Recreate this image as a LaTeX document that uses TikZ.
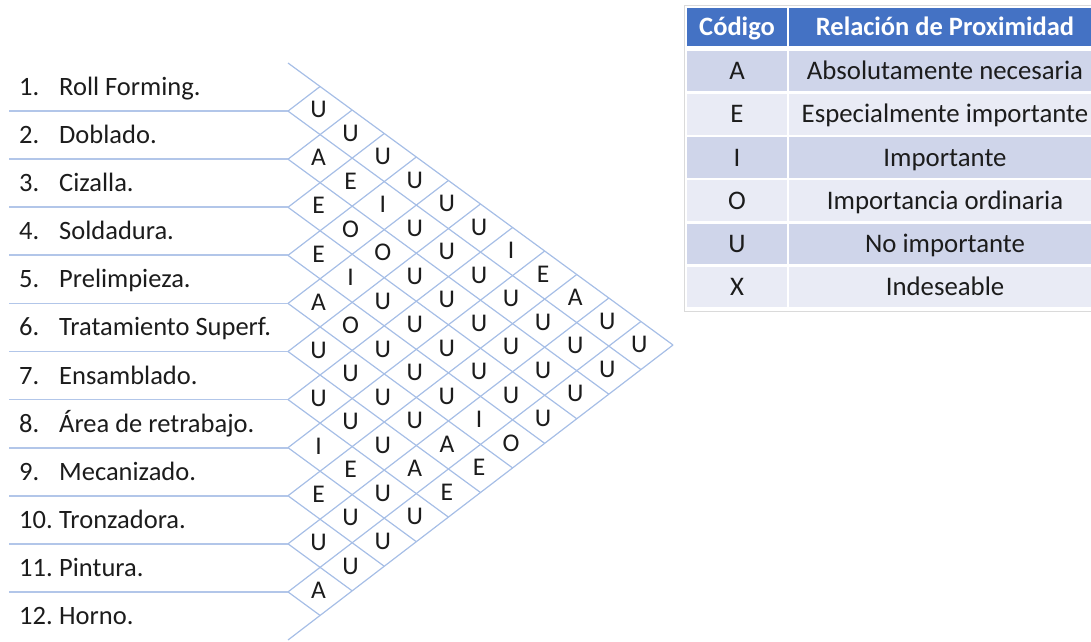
\documentclass[tikz,border=0pt]{standalone}
\usepackage{fontspec}
\setmainfont{Carlito}
\usetikzlibrary{calc}
\definecolor{gridblue}{RGB}{166,190,230}
\definecolor{linkblue}{RGB}{178,198,233}
\definecolor{inktext}{RGB}{28,28,28}
\definecolor{headblue}{RGB}{68,114,196}
\definecolor{banddark}{RGB}{207,213,234}
\definecolor{bandlight}{RGB}{233,235,245}
\definecolor{frame}{RGB}{218,218,218}
\begin{document}
\begin{tikzpicture}[x=1pt,y=-1pt,
  gridline/.style={draw=gridblue, line width=1.2pt},
  rowline/.style={draw=linkblue, line width=1.8pt},
  lbl/.style={inner sep=0pt, anchor=base west, text=inktext, font=\fontsize{26.5}{31}\selectfont},
  rel/.style={inner sep=0pt, text=inktext, text height=16.5pt, text depth=0pt,
    font=\fontsize{25.5}{30}\selectfont},
  cell/.style={rectangle, draw=white, line width=2.6pt, inner sep=0pt,
    text height=17pt, text depth=0pt,
    text=inktext, font=\fontsize{26.8}{31}\selectfont},
  headcell/.style={cell, fill=headblue, text=white, font=\fontsize{26.5}{31}\selectfont\bfseries},
  col1/.style={minimum width=102pt},
  col2/.style={minimum width=314pt}
]
\useasboundingbox (0,0) rectangle (1091,641);

% corners of the relationship chart
\coordinate (T) at (288,63);
\coordinate (B) at (288,640);
\coordinate (R) at (673,345);

% lattice points on the left side and on the two outer edges
\foreach \k in {0,...,12} {
  \coordinate (P\k) at ($(T)!{\k/12}!(B)$);
  \coordinate (Top\k) at ($(T)!{\k/12}!(R)$);
  \coordinate (Bot\k) at ($(B)!{\k/12}!(R)$);
}

% diagonal grid
\foreach \k [evaluate=\k as \m using int(12-\k)] in {0,...,12} {
  \draw[gridline] (P\k) -- (Bot\m);
  \draw[gridline] (P\k) -- (Top\k);
}

% row separators
\foreach \k in {1,...,11} {
  \coordinate (L\k) at (9,0 |- P\k);
  \draw[rowline] (L\k) -- (P\k);
}

% department list
\foreach \i/\name in {1/Roll Forming., 2/Doblado., 3/Cizalla., 4/Soldadura.,
    5/Prelimpieza., 6/Tratamiento Superf., 7/Ensamblado., 8/Área de retrabajo.,
    9/Mecanizado., 10/Tronzadora., 11/Pintura., 12/Horno.} {
  \pgfmathsetmacro\yb{63+(\i-0.5)*577/12+8.5}
  \node[lbl] (n\i) at (19,\yb) {\i.};
  \node[lbl] (t\i) at (59,\yb) {\name};
}

% closeness ratings for each pair (i,j), j>i
\foreach \i/\row in {1/{U,U,U,U,U,U,I,E,A,U,U},
                     2/{A,E,I,U,U,U,U,U,U,U},
                     3/{E,O,O,U,U,U,U,U,U},
                     4/{E,I,U,U,U,U,U,U},
                     5/{A,O,U,U,U,I,O},
                     6/{U,U,U,U,A,E},
                     7/{U,U,U,A,E},
                     8/{I,E,U,U},
                     9/{E,U,U},
                     10/{U,U},
                     11/{A}} {
  \foreach \c [count=\n] in \row {
    \pgfmathtruncatemacro\j{\i+\n}
    \pgfmathsetmacro\cx{286.5+(\j-\i)*385/12}
    \pgfmathsetmacro\cy{62+(\j-0.5)*282/12+(\i-0.5)*295/12}
    \node[rel] (r\i-\j) at (\cx,\cy) {\c};
  }
}

% legend table
\node[headcell, col1, minimum height=41.5pt] (hcode) at (737,27) {Código};
\node[headcell, col2, minimum height=41.5pt] (hrel) at (945,27) {Relación de Proximidad};
\foreach \k/\code/\desc/\shade in {1/A/Absolutamente necesaria/banddark,
    2/E/Especialmente importante/bandlight,
    3/I/Importante/banddark,
    4/O/Importancia ordinaria/bandlight,
    5/U/No importante/banddark,
    6/X/Indeseable/bandlight} {
  \pgfmathsetmacro\ry{49.5+(\k-0.5)*43.2}
  \node[cell, col1, minimum height=43.2pt, fill=\shade] (code\k) at (737,\ry) {\code};
  \node[cell, col2, minimum height=43.2pt, fill=\shade] (desc\k) at (945,\ry) {\desc};
}
\draw[white, line width=3pt] (hcode.south west) -- (hrel.south east);
\draw[frame, line width=0.8pt] (684.5,5) rectangle (1102,311);
\end{tikzpicture}
\end{document}
